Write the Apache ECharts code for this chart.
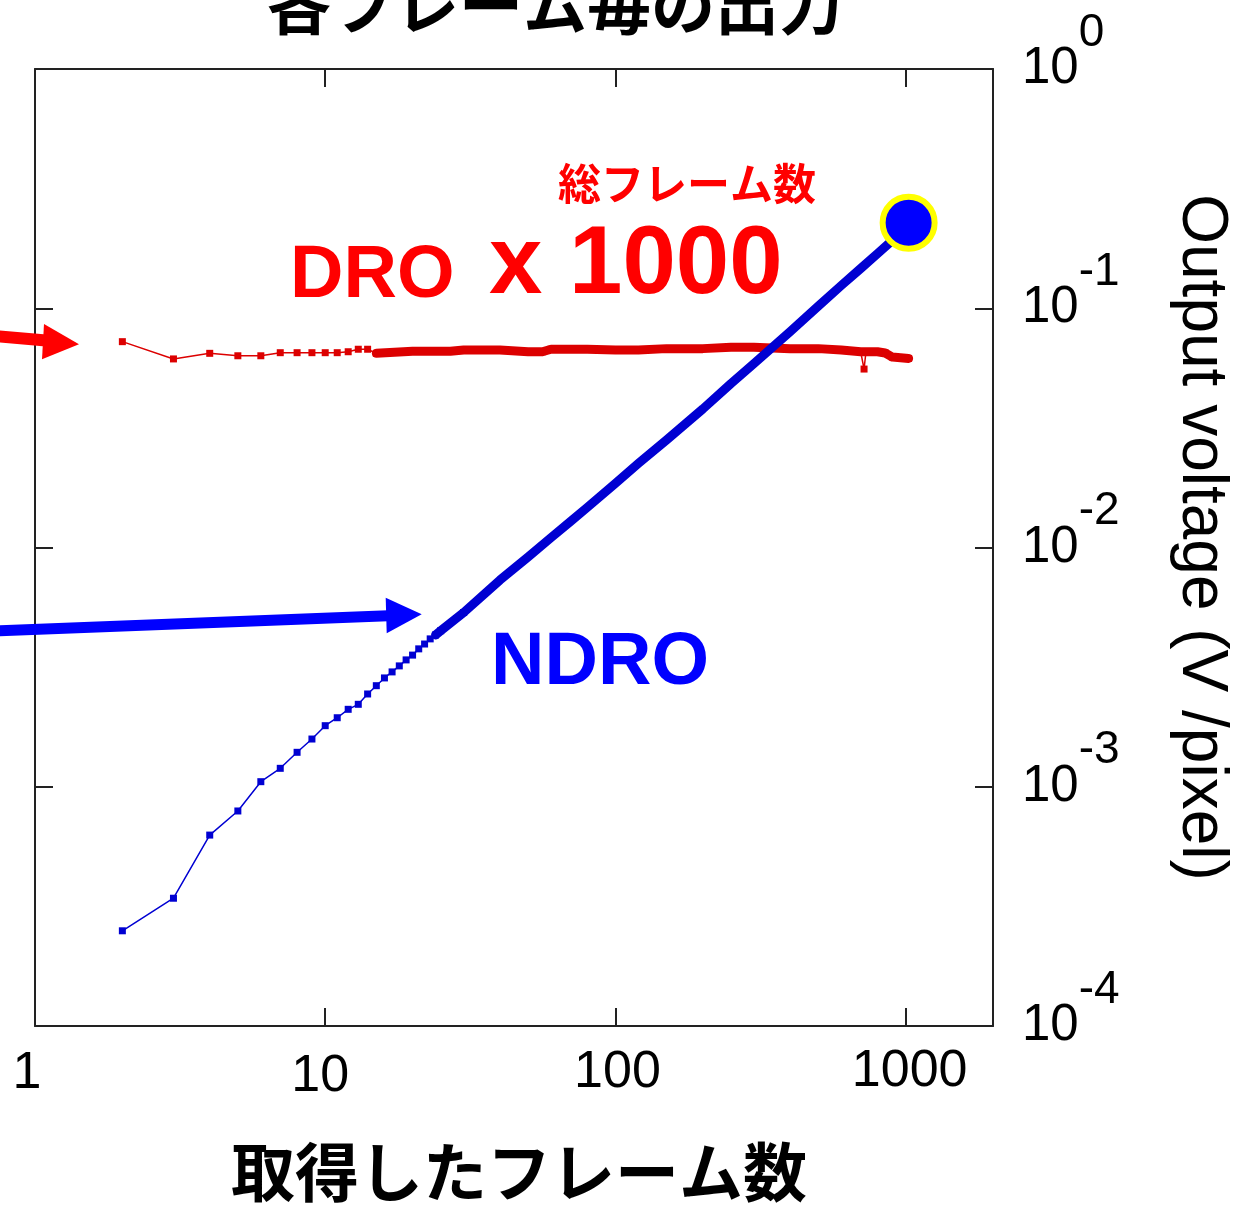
<!DOCTYPE html>
<html>
<head>
<meta charset="utf-8">
<title>各フレーム毎の出力</title>
<script src="https://cdn.jsdelivr.net/npm/echarts@6/dist/echarts.min.js"></script>
<style>
  html, body { margin: 0; padding: 0; background: #ffffff; }
  #chart { width: 1238px; height: 1205px; }
</style>
</head>
<body>
<div id="chart"></div>
<script>
// ---- data -------------------------------------------------------------
// NDRO: output voltage (V/pixel) against number of acquired frames
const ndroFrames = [2, 3, 4, 5, 6, 7, 8, 9, 10, 11, 12, 13, 14, 15, 16, 17, 18, 19, 20,
  21, 22, 23, 24, 25, 30, 40, 50, 60, 70, 80, 100, 120, 150, 200, 250, 300, 400,
  500, 600, 700, 800, 900, 1024];
const ndroVolts = [2.50e-4, 3.42e-4, 6.28e-4, 7.92e-4, 1.050e-3, 1.194e-3, 1.393e-3,
  1.583e-3, 1.800e-3, 1.943e-3, 2.107e-3, 2.211e-3, 2.442e-3, 2.645e-3, 2.85e-3,
  3.02e-3, 3.20e-3, 3.39e-3, 3.55e-3, 3.77e-3, 3.95e-3, 4.15e-3, 4.31e-3, 4.49e-3,
  5.35e-3, 7.31e-3, 9.13e-3, 1.100e-2, 1.285e-2, 1.471e-2, 1.855e-2, 2.247e-2,
  2.813e-2, 3.793e-2, 4.845e-2, 5.864e-2, 7.994e-2, 0.1021, 0.1245, 0.1466, 0.1690,
  0.1923, 0.2278];

// DRO: per-frame output, plotted multiplied by 1000
const droFrames = [2, 3, 4, 5, 6, 7, 8, 9, 10, 11, 12, 13, 14, 15, 20, 27, 30, 40, 50,
  56, 60, 80, 100, 120, 150, 200, 250, 300, 400, 500, 600, 700, 710, 719, 730, 800,
  850, 900, 1024];
const droVoltsX1000 = [0.0725, 0.0614, 0.0648, 0.0633, 0.0633, 0.0652, 0.0652, 0.0652,
  0.0652, 0.0652, 0.0658, 0.0674, 0.0674, 0.0648, 0.0661, 0.0661, 0.0669, 0.0669,
  0.0658, 0.0658, 0.0674, 0.0674, 0.0669, 0.0669, 0.0678, 0.0678, 0.0687, 0.0687,
  0.0678, 0.0678, 0.0669, 0.0658, 0.0658, 0.0557, 0.0658, 0.0658, 0.0650, 0.0625,
  0.0617];
const droDropFrames = [719];

// axis tick labels
const xTickLabels = ['1', '10', '100', '1000'];
const yTickExponents = [0, -1, -2, -3, -4];

// ---- helpers ------------------------------------------------------------
const LATIN = '"Liberation Sans", Arial, Helvetica, sans-serif';
const CJK = '"Noto Sans CJK JP", "Noto Sans CJK SC", sans-serif';
const pairs = (xs, ys) => xs.map((x, i) => [x, ys[i]]);

const ndroData = pairs(ndroFrames, ndroVolts);
const droData = pairs(droFrames, droVoltsX1000);
// once the markers crowd together they merge into a solid band
const ndroBand = ndroData.filter(d => d[0] >= 24);
const droBand = droData.filter(d => d[0] >= 15 && droDropFrames.indexOf(d[0]) < 0);
const ndroLast = ndroData[ndroData.length - 1];

const NDRO_COLOR = '#0000d2';
const DRO_COLOR = '#dc0000';
const FRAME_COLOR = '#222222';

function powerIndex(v) {
  const l = Math.log10(v);
  const e = Math.round(l);
  return Math.abs(l - e) < 1e-6 ? e : null;
}

const frameLine = { show: true, lineStyle: { color: FRAME_COLOR, width: 2 } };
const innerTicks = { show: true, inside: true, length: 18, lineStyle: { color: FRAME_COLOR, width: 2 } };

const xLabelBase = { fontFamily: LATIN, fontSize: 52, lineHeight: 52, color: '#000' };

const chart = echarts.init(document.getElementById('chart'), null, { renderer: 'canvas' });

chart.setOption({
  animation: false,
  backgroundColor: '#ffffff',
  grid: { left: 35, right: 245, top: 69, bottom: 179, containLabel: false, outerBoundsMode: 'none' },
  xAxis: [
    {
      type: 'log', logBase: 10, min: 1, max: 2000, position: 'bottom',
      axisLine: frameLine, axisTick: innerTicks,
      minorTick: { show: false }, splitLine: { show: false },
      axisLabel: {
        margin: 20,
        formatter: v => {
          const e = powerIndex(v);
          if (e === null || e < 0 || e >= xTickLabels.length) return '';
          return '{t' + xTickLabels[e] + '|' + xTickLabels[e] + '}';
        },
        rich: {
          t1: Object.assign({}, xLabelBase, { padding: [4, 16, 0, 0] }),
          t10: Object.assign({}, xLabelBase, { padding: [9, 10, 0, 0] }),
          t100: Object.assign({}, xLabelBase, { padding: [2, 0, 0, 4] }),
          t1000: Object.assign({}, xLabelBase, { padding: [0, 0, 0, 8] })
        }
      },
      name: '取得したフレーム数',
      nameLocation: 'middle',
      nameGap: 114,
      nameTextStyle: { fontFamily: CJK, fontWeight: 'bold', fontSize: 64, color: '#000', padding: [0, 0, 0, 10] }
    },
    {
      type: 'log', logBase: 10, min: 1, max: 2000, position: 'top',
      axisLine: frameLine, axisTick: innerTicks,
      axisLabel: { show: false }, minorTick: { show: false }, splitLine: { show: false }
    }
  ],
  yAxis: [
    {
      type: 'log', logBase: 10, min: 1e-4, max: 1, position: 'right',
      axisLine: frameLine, axisTick: innerTicks,
      minorTick: { show: false }, splitLine: { show: false },
      axisLabel: {
        margin: 29,
        align: 'left',
        formatter: v => {
          const e = powerIndex(v);
          if (e === null || yTickExponents.indexOf(e) < 0) return '';
          return '{b|10}{s|' + e + '}';
        },
        rich: {
          b: { fontFamily: LATIN, fontSize: 51, lineHeight: 51, color: '#000', verticalAlign: 'middle' },
          s: { fontFamily: LATIN, fontSize: 46, lineHeight: 46, color: '#000', verticalAlign: 'middle', padding: [0, 0, 72, 0] }
        }
      },
      name: 'Output voltage (V /pixel)',
      nameLocation: 'middle',
      nameRotate: -90,
      nameGap: 176,
      nameTextStyle: { fontFamily: LATIN, fontSize: 64, color: '#000', padding: [0, 20, 0, 0] }
    },
    {
      type: 'log', logBase: 10, min: 1e-4, max: 1, position: 'left',
      axisLine: frameLine, axisTick: innerTicks,
      axisLabel: { show: false }, minorTick: { show: false }, splitLine: { show: false }
    }
  ],
  series: [
    {
      name: 'DRO band', type: 'line', data: droBand, z: 2,
      showSymbol: false, symbol: 'none',
      lineStyle: { color: DRO_COLOR, width: 9, join: 'round', cap: 'round' }
    },
    {
      name: 'DRO', type: 'line', data: droData, z: 3,
      symbol: 'rect', symbolSize: 7,
      itemStyle: { color: DRO_COLOR },
      lineStyle: { color: DRO_COLOR, width: 1.5 }
    },
    {
      name: 'NDRO band', type: 'line', data: ndroBand, z: 4,
      showSymbol: false, symbol: 'none',
      lineStyle: { color: NDRO_COLOR, width: 9, join: 'round', cap: 'round' }
    },
    {
      name: 'NDRO', type: 'line', data: ndroData.filter(d => d[0] <= 30), z: 5,
      symbol: 'rect', symbolSize: 7,
      itemStyle: { color: NDRO_COLOR },
      lineStyle: { color: NDRO_COLOR, width: 1.5 }
    },
    {
      name: 'NDRO total', type: 'scatter', data: [ndroLast], z: 6,
      symbol: 'circle', symbolSize: 52,
      itemStyle: { color: '#0000ff', borderColor: '#ffff00', borderWidth: 6, opacity: 1 }
    }
  ],
  graphic: [
    // cut-off heading above the plot
    { type: 'text', x: 555, y: 5, z: 10,
      style: { text: '各フレーム毎の出力', font: 'bold 64px ' + CJK, fill: '#000',
               align: 'center', verticalAlign: 'middle', textAlign: 'center', textVerticalAlign: 'middle' } },
    // DRO annotation
    { type: 'text', x: 687, y: 184, z: 10,
      style: { text: '総フレーム数', font: 'bold 43px ' + CJK, fill: '#ff0000',
               align: 'center', verticalAlign: 'middle', textAlign: 'center', textVerticalAlign: 'middle' } },
    { type: 'text', x: 290, y: 277, z: 10,
      style: { text: 'DRO', font: 'bold 74px ' + LATIN, fill: '#ff0000',
               align: 'left', verticalAlign: 'middle', textAlign: 'left', textVerticalAlign: 'middle' } },
    { type: 'text', x: 489, y: 267, z: 10,
      style: { text: 'x 1000', font: 'bold 96px ' + LATIN, fill: '#ff0000',
               align: 'left', verticalAlign: 'middle', textAlign: 'left', textVerticalAlign: 'middle' } },
    // NDRO annotation
    { type: 'text', x: 600, y: 664, z: 10,
      style: { text: 'NDRO', font: 'bold 74px ' + LATIN, fill: '#0000ff',
               align: 'center', verticalAlign: 'middle', textAlign: 'center', textVerticalAlign: 'middle' } },
    // red pointer arrow
    { type: 'line', z: 10, shape: { x1: -6, y1: 336, x2: 46, y2: 340.5 },
      style: { stroke: '#ff0000', lineWidth: 12 } },
    { type: 'polygon', z: 10, shape: { points: [[44, 324], [79, 344.3], [42, 359.3]] },
      style: { fill: '#ff0000' } },
    // blue pointer arrow
    { type: 'line', z: 10, shape: { x1: -6, y1: 631, x2: 388, y2: 615.7 },
      style: { stroke: '#0000ff', lineWidth: 11 } },
    { type: 'polygon', z: 10, shape: { points: [[385.7, 597.7], [421.7, 614.3], [386.7, 633.3]] },
      style: { fill: '#0000ff' } }
  ]
});
</script>
</body>
</html>
